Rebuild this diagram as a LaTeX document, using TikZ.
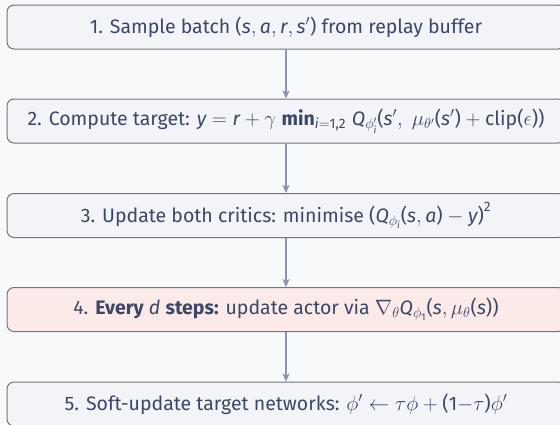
\documentclass[tikz,border=0pt]{standalone}
\usepackage{amsmath}
\usepackage{fontspec}
\setmainfont{Fira Sans}
\usetikzlibrary{arrows.meta}
\definecolor{bg}{HTML}{F8F9FA}
\definecolor{boxfill}{HTML}{F2F4F7}
\definecolor{boxline}{HTML}{6E777C}
\definecolor{hifill}{HTML}{FBEAE8}
\definecolor{txt}{HTML}{3A4766}
\definecolor{arrcol}{HTML}{8A93B0}
\newcommand\vi[1]{\text{\itshape #1}}
\newcommand\up[1]{\text{#1}}
\newcommand\lp{\text{(}}
\newcommand\rp{\text{)}}
\tikzset{
  stepbox/.style={draw=boxline, fill=boxfill, line width=1pt, rounded corners=7pt,
    minimum width=558pt, minimum height=44pt, inner sep=0pt, text=txt,
    font=\fontsize{19.5}{23}\selectfont},
  hibox/.style={stepbox, fill=hifill},
  arr/.style={draw=arrcol, line width=1.2pt, -{Stealth[length=8pt,width=7pt,inset=2pt]}}
}
\begin{document}
\begin{tikzpicture}
\fill[bg] (0,0) rectangle (560pt,-424pt);
\useasboundingbox (0,0) rectangle (560pt,-424pt);
\node[stepbox] (b1) at (286pt,-27pt) {1. Sample batch $\lp\vi{s},\vi{a},\vi{r},\vi{s}'\rp$ from replay buffer};
\node[stepbox] (b2) at (286pt,-121pt) {2. Compute target: $\vi{y}=\vi{r}+\gamma\;\text{\bfseries min}_{\vi{i}=\up{1,2}}\;\vi{Q}_{\phi_{\vi{i}}'}\lp\vi{s}',\;\mu_{\theta'}\lp\vi{s}'\rp+\up{clip}\lp\epsilon\rp\rp$};
\node[stepbox] (b3) at (286pt,-215.5pt) {3. Update both critics: minimise $\lp\vi{Q}_{\phi_{\vi{i}}}\lp\vi{s},\vi{a}\rp-\vi{y}\rp^{\up{2}}$};
\node[hibox] (b4) at (286pt,-309.5pt) {4. \textbf{Every} \textit{d} \textbf{steps:} update actor via $\nabla_{\theta}\vi{Q}_{\phi_{\up{1}}}\lp\vi{s},\mu_{\theta}\lp\vi{s}\rp\rp$};
\node[stepbox] (b5) at (286pt,-404pt) {5. Soft-update target networks: $\phi'\leftarrow\tau\phi+\lp\up{1}{-}\tau\rp\phi'$};
\draw[arr] (b1) -- (b2);
\draw[arr] (b2) -- (b3);
\draw[arr] (b3) -- (b4);
\draw[arr] (b4) -- (b5);
\end{tikzpicture}
\end{document}
